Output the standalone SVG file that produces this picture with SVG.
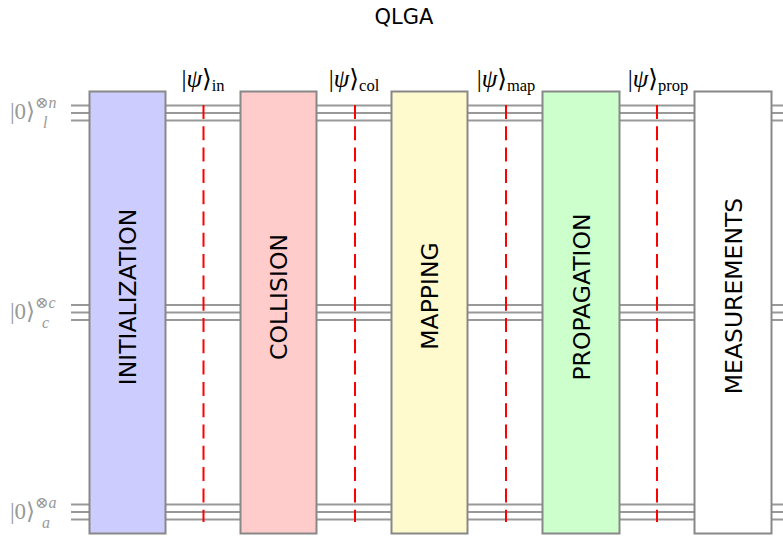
<svg xmlns="http://www.w3.org/2000/svg" width="783" height="536" viewBox="0 0 783 536">
<style>
.wire{stroke:#999;stroke-width:2;fill:none}
.probe{stroke:#ff0000;stroke-width:2;stroke-dasharray:14 7.3;fill:none}
.box{stroke:#888;stroke-width:2}
.blabel{font-family:"DejaVu Sans",sans-serif;font-size:23.5px;fill:#000;text-anchor:middle}
.title{font-family:"DejaVu Sans",sans-serif;font-size:21px;fill:#000;text-anchor:middle}
.ket{font-family:"Liberation Serif","DejaVu Serif",serif;font-size:25px;fill:#000;text-anchor:middle}
.reg{font-family:"Liberation Serif","DejaVu Serif",serif;font-size:23px;fill:#999}
.it{font-style:italic}
</style>
<rect width="783" height="536" fill="#fff"/>
<text class="title" x="404" y="24">QLGA</text>
<g id="connectors">
<path class="wire" d="M71 105.5H783M71 113H783M71 120.5H783"/>
<path class="wire" d="M71 305H783M71 312.5H783M71 320H783"/>
<path class="wire" d="M71 504.5H783M71 512H783M71 519.5H783"/>
<path class="probe" d="M203.5 105V522M355 105V522M506 105V522M657 105V522"/>
</g>
<g id="init">
<rect class="box" x="89.5" y="91.5" width="76" height="442" fill="#ccccff"/>
<text class="blabel" transform="translate(136 297) rotate(-90)">INITIALIZATION</text>
</g>
<g id="collision">
<rect class="box" x="240.5" y="91.5" width="76" height="442" fill="#ffcccc"/>
<text class="blabel" transform="translate(287 297) rotate(-90)">COLLISION</text>
</g>
<g id="mapping">
<rect class="box" x="391.5" y="91.5" width="76" height="442" fill="#fffacd"/>
<text class="blabel" transform="translate(438 296) rotate(-90)">MAPPING</text>
</g>
<g id="propagation">
<rect class="box" x="542.5" y="91.5" width="77" height="442" fill="#ccffcc"/>
<text class="blabel" transform="translate(589.5 297) rotate(-90)">PROPAGATION</text>
</g>
<g id="measurements">
<rect class="box" x="694.5" y="91.5" width="77" height="442" fill="#ffffff"/>
<text class="blabel" transform="translate(741.5 296) rotate(-90)">MEASUREMENTS</text>
</g>
<g id="state-labels">
<text class="ket" x="203" y="87">|<tspan class="it">ψ</tspan>⟩<tspan font-size="16.5" dy="4">in</tspan></text>
<text class="ket" x="354" y="87">|<tspan class="it">ψ</tspan>⟩<tspan font-size="16.5" dy="4">col</tspan></text>
<text class="ket" x="506" y="87">|<tspan class="it">ψ</tspan>⟩<tspan font-size="16.5" dy="4">map</tspan></text>
<text class="ket" x="658" y="87">|<tspan class="it">ψ</tspan>⟩<tspan font-size="16.5" dy="4">prop</tspan></text>
</g>
<g id="register-labels">
<text class="reg" x="10" y="119">|0⟩<tspan font-size="16" dy="-11">⊗<tspan class="it">n</tspan></tspan><tspan class="it" font-size="16" x="43" y="128">l</tspan></text>
<text class="reg" x="10" y="319">|0⟩<tspan font-size="16" dy="-11">⊗<tspan class="it">c</tspan></tspan><tspan class="it" font-size="16" x="42" y="328">c</tspan></text>
<text class="reg" x="10" y="519">|0⟩<tspan font-size="16" dy="-11">⊗<tspan class="it">a</tspan></tspan><tspan class="it" font-size="16" x="42" y="528">a</tspan></text>
</g>
</svg>
